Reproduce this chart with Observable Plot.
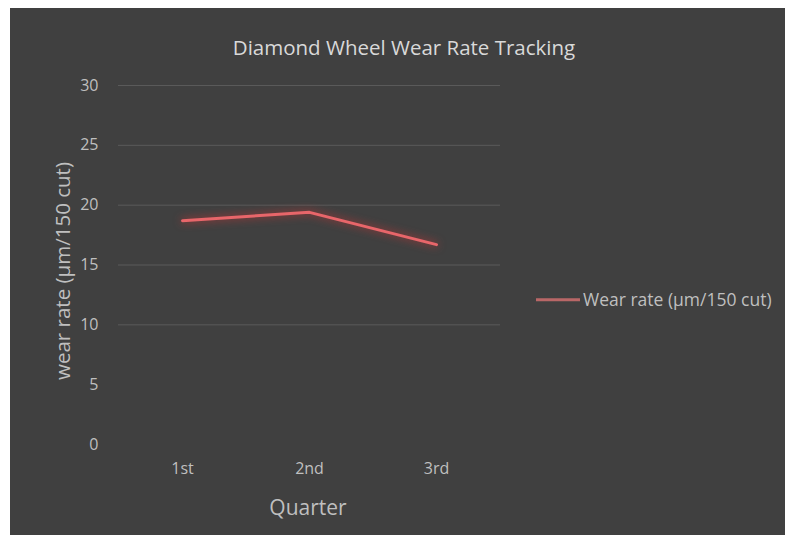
<!DOCTYPE html>
<html><head><meta charset="utf-8">
<script src="https://cdn.jsdelivr.net/npm/d3@7"></script>
<script src="https://cdn.jsdelivr.net/npm/@observablehq/plot@0.6"></script>
<style>
body{margin:0;background:#fff;}
#wrap{position:absolute;left:10px;top:8px;width:775px;height:527px;background:#404040;overflow:hidden;font-family:"Open Sans",sans-serif;}
#chart{position:absolute;left:0;top:0;}
.t{position:absolute;white-space:nowrap;color:#bfbfbf;line-height:1;}
#title{left:394px;top:39px;font-size:20.5px;color:#d9d9d9;transform:translate(-50%,-50%);}
#ytitle{left:52px;top:263px;font-size:20.5px;transform:translate(-50%,-50%) rotate(-90deg);}
#xtitle{left:298px;top:499px;font-size:21px;transform:translate(-50%,-50%);}
#legend{left:526px;top:292px;font-size:17.5px;transform:translateY(-50%);display:flex;align-items:center;}
#legend .sw{display:inline-block;width:44px;height:3px;background:#b96767;margin-right:3px;}
g[aria-label="line"]{filter:drop-shadow(0 0 4px rgba(230,50,50,0.8));}
</style>
</head><body>
<div id="wrap">
  <div id="chart"></div>
  <div class="t" id="title">Diamond Wheel Wear Rate Tracking</div>
  <div class="t" id="ytitle">wear rate (µm/150 cut)</div>
  <div class="t" id="xtitle">Quarter</div>
  <div class="t" id="legend"><span class="sw"></span><span id="legtext"></span></div>
</div>
<script>
const quarters = ["1st", "2nd", "3rd"];
const wearRate = [18.7, 19.4, 16.7];
const yTicks = [0, 5, 10, 15, 20, 25, 30];
const gridValues = [10, 15, 20, 25, 30];
const seriesName = "Wear rate (µm/150 cut)";

document.getElementById("legtext").textContent = seriesName;
const data = quarters.map((q, i) => ({quarter: q, value: wearRate[i]}));

const plot = Plot.plot({
  width: 775,
  height: 527,
  marginLeft: 108,
  marginRight: 285,
  marginTop: 77,
  marginBottom: 91,
  style: {background: "transparent", color: "#bfbfbf", fontSize: "16px", fontFamily: "'Open Sans', sans-serif"},
  x: {type: "point", domain: quarters, padding: 0.5, label: null},
  y: {domain: [0, 30], label: null},
  marks: [
    Plot.gridY(gridValues, {stroke: "#5a5a5a", strokeOpacity: 1, strokeWidth: 1}),
    Plot.axisY({ticks: yTicks, tickSize: 0, tickPadding: 20, label: null}),
    Plot.axisX({tickSize: 0, tickPadding: 18, label: null}),
    Plot.line(data, {x: "quarter", y: "value", stroke: "#e8666a", strokeWidth: 3, strokeLinejoin: "round", strokeLinecap: "round"})
  ]
});
document.getElementById("chart").appendChild(plot);
</script>
</body></html>
